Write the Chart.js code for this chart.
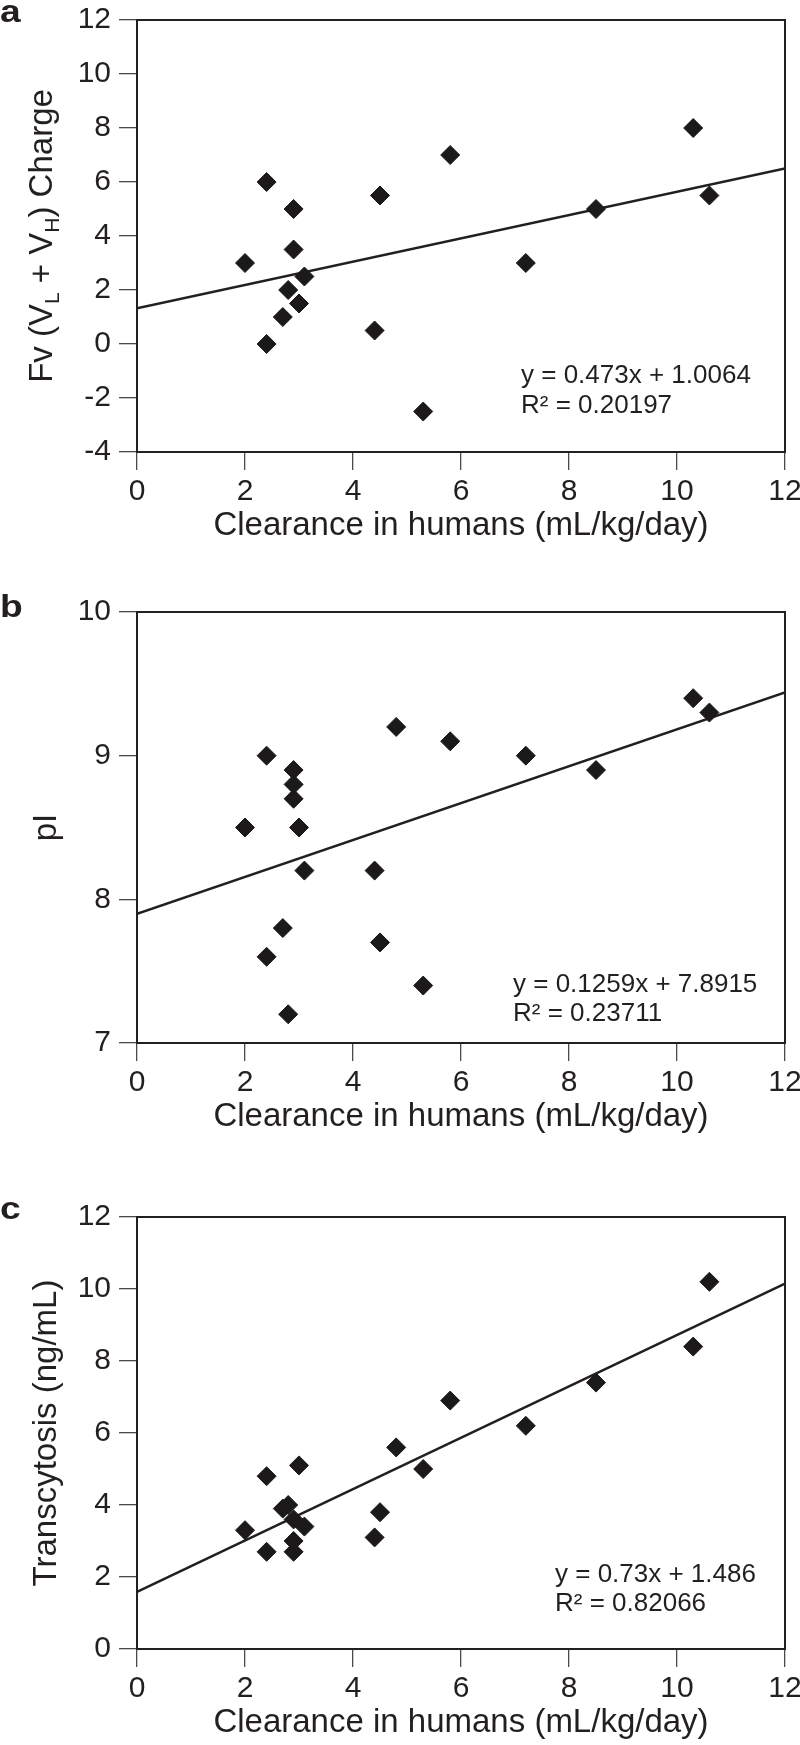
<!DOCTYPE html>
<html>
<head>
<meta charset="utf-8">
<script src="https://cdn.jsdelivr.net/npm/chart.js@4.4.1/dist/chart.umd.min.js"></script>
<style>
  html, body { margin: 0; padding: 0; background: #fff; }
  body { width: 800px; height: 1745px; position: relative; overflow: hidden; }
  .panel { position: absolute; left: 0; width: 800px; }
  .panel canvas { display: block; }
</style>
</head>
<body>
<div class="panel" style="top:0px;height:575px"><canvas id="chartA" width="800" height="575"></canvas></div>
<div class="panel" style="top:575px;height:590px"><canvas id="chartB" width="800" height="590"></canvas></div>
<div class="panel" style="top:1165px;height:580px"><canvas id="chartC" width="800" height="580"></canvas></div>
<script>
// values
const clearanceA = [2.0, 2.4, 2.4, 2.7, 2.8, 2.9, 2.9, 3.0, 3.1, 4.4, 4.5, 5.3, 5.8, 7.2, 8.5, 10.3, 10.6];
const chargeA    = [3.0, 6.0, 0.0, 1.0, 2.0, 5.0, 3.5, 1.5, 2.5, 0.5, 5.5, -2.5, 7.0, 3.0, 5.0, 8.0, 5.5];

const clearanceB = [2.0, 2.4, 2.4, 2.7, 2.8, 2.9, 2.9, 2.9, 3.0, 3.1, 4.4, 4.5, 4.8, 5.3, 5.8, 7.2, 8.5, 10.3, 10.6];
const piB        = [8.5, 9.0, 7.6, 7.8, 7.2, 8.9, 8.8, 8.7, 8.5, 8.2, 8.2, 7.7, 9.2, 7.4, 9.1, 9.0, 8.9, 9.4, 9.3];

const clearanceC = [2.0, 2.4, 2.4, 2.7, 2.8, 2.9, 2.9, 2.9, 3.0, 3.1, 4.4, 4.5, 4.8, 5.3, 5.8, 7.2, 8.5, 10.3, 10.6];
const transC     = [3.3, 4.8, 2.7, 3.9, 4.0, 3.6, 3.0, 2.7, 5.1, 3.4, 3.1, 3.8, 5.6, 5.0, 6.9, 6.2, 7.4, 8.4, 10.2];

// trend line ends as drawn (x = 0 and x = 12)
const trendX = [0, 12];
const trendA = [1.32, 6.5];
const trendB = [7.9, 9.44];
const trendC = [1.59, 10.15];

const eqA = ["y = 0.473x + 1.0064", "R\u00b2 = 0.20197"];
const eqB = ["y = 0.1259x + 7.8915", "R\u00b2 = 0.23711"];
const eqC = ["y = 0.73x + 1.486", "R\u00b2 = 0.82066"];

const xTitle = "Clearance in humans (mL/kg/day)";

const INK = "#231f20";
const FONT = "'Liberation Sans', Arial, Helvetica, sans-serif";
Chart.defaults.font.family = FONT;
Chart.defaults.color = INK;

const toPoints = (xs, ys) => xs.map((x, i) => ({ x: x, y: ys[i] }));

// frame round the plot, panel letter, equation text and the y title (with subscripts)
const panelDecor = {
  id: "panelDecor",
  afterDraw(chart, args, opts) {
    const { ctx, chartArea: ca } = chart;
    ctx.save();
    ctx.strokeStyle = INK;
    ctx.lineWidth = 2;
    ctx.strokeRect(ca.left, ca.top, ca.right - ca.left, ca.bottom - ca.top);

    ctx.fillStyle = INK;
    ctx.textAlign = "left";
    ctx.textBaseline = "alphabetic";

    // panel letter, heavy and a little wide
    ctx.save();
    ctx.font = "bold 31px " + FONT;
    ctx.translate(0, opts.letterBase);
    ctx.scale(1.2, 1);
    ctx.fillText(opts.letter, 0, 0);
    ctx.restore();

    ctx.font = "26px " + FONT;
    opts.eq.forEach((t, i) => ctx.fillText(t, opts.eqX, opts.eqBase[i]));

    // y title, rotated
    const big = "33px " + FONT, small = "21px " + FONT;
    let total = 0;
    opts.yTitle.forEach(p => {
      ctx.font = p[1] ? small : big;
      total += ctx.measureText(p[0]).width;
    });
    ctx.translate(opts.yTitleX, (ca.top + ca.bottom) / 2);
    ctx.rotate(-Math.PI / 2);
    let x = -total / 2;
    opts.yTitle.forEach(p => {
      ctx.font = p[1] ? small : big;
      ctx.fillText(p[0], x, p[1] ? 7 : 0);
      x += ctx.measureText(p[0]).width;
    });
    ctx.restore();
  }
};

function makePanel(id, cfg) {
  const canvas = document.getElementById(id);
  const H = canvas.height;
  const xAxisH = H - cfg.plotBottom;
  const titlePad = H - cfg.titleY - 19.8;

  const tickGrid = {
    display: true,
    drawOnChartArea: false,
    drawTicks: true,
    tickLength: 18,
    color: "#4a4a4a",
    lineWidth: 1.3
  };

  new Chart(canvas.getContext("2d"), {
    type: "scatter",
    data: {
      datasets: [
        {
          data: toPoints(cfg.xs, cfg.ys),
          pointStyle: "rectRot",
          pointRadius: 9.5,
          backgroundColor: "#1b1919",
          borderColor: "#1b1919",
          borderWidth: 1
        },
        {
          type: "line",
          data: toPoints(trendX, cfg.trend),
          showLine: true,
          pointRadius: 0,
          borderColor: INK,
          borderWidth: 2.5,
          fill: false
        }
      ]
    },
    options: {
      responsive: false,
      animation: false,
      events: [],
      layout: { padding: { top: cfg.plotTop, right: 15, left: 0, bottom: 0 } },
      plugins: {
        legend: { display: false },
        tooltip: { enabled: false },
        panelDecor: {
          letter: cfg.letter, letterBase: cfg.letterBase,
          eq: cfg.eq, eqX: cfg.eqX, eqBase: cfg.eqBase,
          yTitle: cfg.yTitle, yTitleX: cfg.yTitleX
        }
      },
      scales: {
        x: {
          type: "linear",
          min: 0, max: 12,
          ticks: { stepSize: 2, color: INK, font: { size: 30 }, padding: 4, maxRotation: 0, autoSkip: false },
          grid: tickGrid,
          border: { display: true, color: INK, width: 2 },
          title: { display: true, text: xTitle, color: INK, font: { size: 33 }, padding: { top: 0, bottom: titlePad } },
          afterFit(s) { s.height = xAxisH; s.paddingLeft = 0; s.paddingRight = 0; }
        },
        y: {
          type: "linear",
          min: cfg.yMin, max: cfg.yMax,
          ticks: { stepSize: cfg.yStep, color: INK, font: { size: 30 }, padding: 8, autoSkip: false },
          grid: tickGrid,
          border: { display: true, color: INK, width: 2 },
          afterFit(s) { s.width = 137; s.paddingTop = 0; s.paddingBottom = 0; }
        }
      }
    },
    plugins: [panelDecor]
  });
}

// panel a  (canvas top 0)
makePanel("chartA", {
  xs: clearanceA, ys: chargeA, trend: trendA,
  yMin: -4, yMax: 12, yStep: 2,
  plotTop: 20, plotBottom: 452, titleY: 526,
  letter: "a", letterBase: 22,
  eq: eqA, eqX: 521, eqBase: [383, 413],
  yTitle: [["Fv (V", 0], ["L", 1], [" + V", 0], ["H", 1], [") Charge", 0]], yTitleX: 52
});

// panel b  (canvas top 575)
makePanel("chartB", {
  xs: clearanceB, ys: piB, trend: trendB,
  yMin: 7, yMax: 10, yStep: 1,
  plotTop: 612 - 575, plotBottom: 1043 - 575, titleY: 1117 - 575,
  letter: "b", letterBase: 617 - 575,
  eq: eqB, eqX: 513, eqBase: [992 - 575, 1021 - 575],
  yTitle: [["pI", 0]], yTitleX: 56
});

// panel c  (canvas top 1165)
makePanel("chartC", {
  xs: clearanceC, ys: transC, trend: trendC,
  yMin: 0, yMax: 12, yStep: 2,
  plotTop: 1217 - 1165, plotBottom: 1649 - 1165, titleY: 1723 - 1165,
  letter: "c", letterBase: 1219 - 1165,
  eq: eqC, eqX: 555, eqBase: [1582 - 1165, 1611 - 1165],
  yTitle: [["Transcytosis (ng/mL)", 0]], yTitleX: 56
});
</script>
</body>
</html>
